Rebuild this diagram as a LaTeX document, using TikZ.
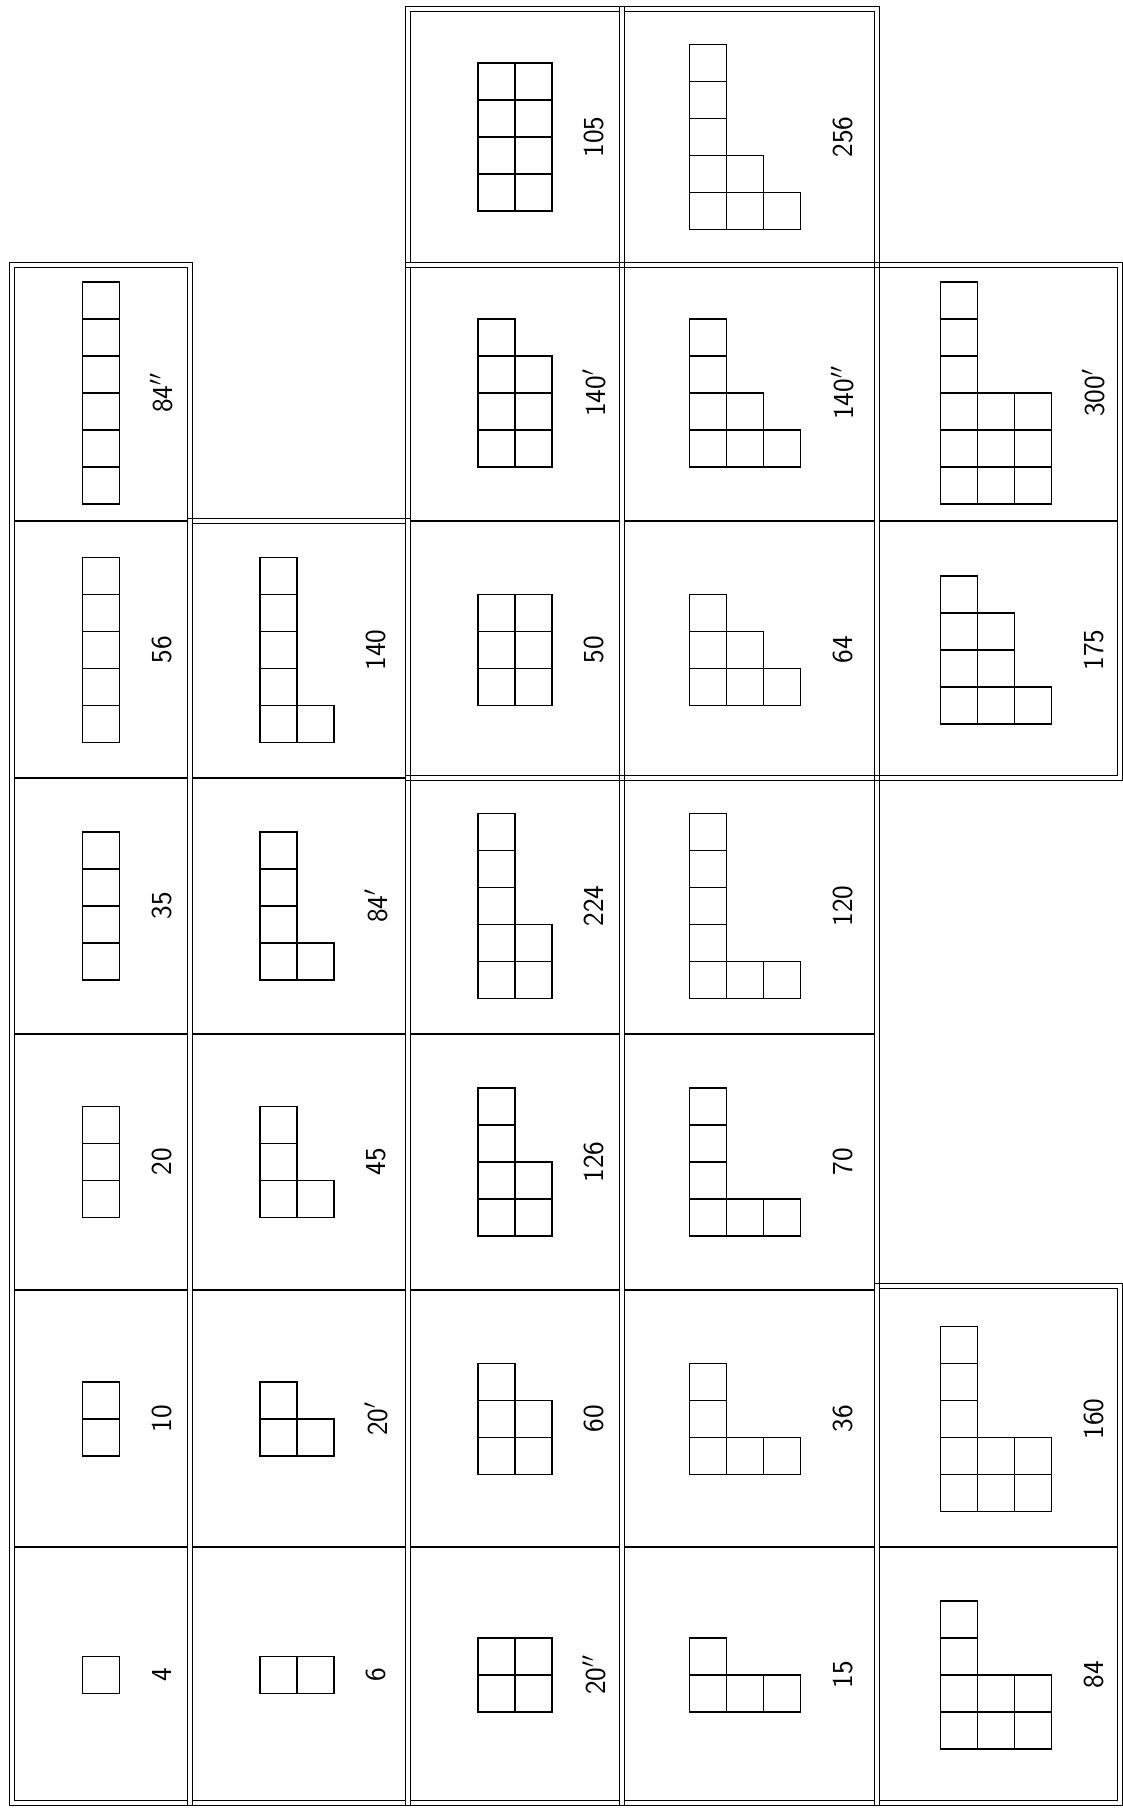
\documentclass[tikz,border=0pt]{standalone}
\usepackage{fontspec}
\usepackage{tikz}

\newcommand{\bsize}{37}
% one cell: rotated Young diagram (rows go upwards) + dimension
\newcommand{\youngcell}[3]{%
  \foreach \len [count=\i] in {#2} {\ifnum\i=1 \xdef\ydtop{\len}\fi \xdef\ydcols{\i}}%
  \begin{scope}[shift={(#1)}]
    \foreach \len [count=\i] in {#2} {
      \foreach \r in {1,...,\len} {
        \draw[ybox] ({(\i-1-\ydcols/2)*\bsize},{(\r-1-\ydtop/2)*\bsize}) rectangle ++(\bsize,\bsize);
      }
    }
    \node[dimlabel] (#1-lab) at ({\ydcols*\bsize/2+42},0) {#3};
  \end{scope}%
}

\begin{document}
\begin{tikzpicture}[
    x=0.02cm, y=0.02cm,
    frame/.style={line width=0.9pt},
    rowline/.style={line width=1pt},
    ybox/.style={line width=1.1pt},
    dimlabel/.style={rotate=90, inner sep=0pt, font=\sffamily\fontsize{16.5}{19}\selectfont}
]
    \useasboundingbox (0,0) rectangle (1123,1810);

    % Double frames of the blocks
    \foreach \xa/\ya/\xb/\yb in {12/7/190/1545, 190/7/408/1289,
        408/7/622/1032, 408/1032/622/1545, 408/1545/622/1801,
        622/7/877/1032, 622/1032/877/1545, 622/1545/877/1801,
        877/1032/1120/1545, 877/7/1120/524} {
        \draw[frame] (\xa-2.5,\ya-2.5) rectangle (\xb+2.5,\yb+2.5);
        \draw[frame] (\xa+2.5,\ya+2.5) rectangle (\xb-2.5,\yb-2.5);
    }

    % Single row lines
    \foreach \y in {263,520,776,1032,1289} \draw[rowline] (14.5,\y) -- (187.5,\y);
    \foreach \y in {263,520,776,1032} \draw[rowline] (192.5,\y) -- (405.5,\y);
    \foreach \y in {263,520,776,1289} {
        \draw[rowline] (410.5,\y) -- (619.5,\y);
        \draw[rowline] (624.5,\y) -- (874.5,\y);
    }
    \draw[rowline] (879.5,1289) -- (1117.5,1289);
    \draw[rowline] (879.5,263) -- (1117.5,263);

    % Cell centres
    \coordinate (c4) at (101,135);
    \coordinate (c10) at (101,391);
    \coordinate (c20) at (101,648);
    \coordinate (c35) at (101,904);
    \coordinate (c56) at (101,1160);
    \coordinate (c84b) at (101,1417);

    \coordinate (c6) at (297,135);
    \coordinate (c20a) at (297,391);
    \coordinate (c45) at (297,648);
    \coordinate (c84a) at (297,904);
    \coordinate (c140) at (297,1160);

    \coordinate (c20b) at (515,135);
    \coordinate (c60) at (515,391);
    \coordinate (c126) at (515,648);
    \coordinate (c224) at (515,904);
    \coordinate (c50) at (515,1160);
    \coordinate (c140a) at (515,1417);
    \coordinate (c105) at (515,1673);

    \coordinate (c15) at (745,135);
    \coordinate (c36) at (745,391);
    \coordinate (c70) at (745,648);
    \coordinate (c120) at (745,904);
    \coordinate (c64) at (745,1160);
    \coordinate (c140b) at (745,1417);
    \coordinate (c256) at (745,1673);

    \coordinate (c84) at (996,135);
    \coordinate (c160) at (996,391);
    \coordinate (c175) at (996,1160);
    \coordinate (c300a) at (996,1417);

    % Symmetric
    \youngcell{c4}{1}{4}
    \youngcell{c10}{2}{10}
    \youngcell{c20}{3}{20}
    \youngcell{c35}{4}{35}
    \youngcell{c56}{5}{56}
    \youngcell{c84b}{6}{84$''$}

    % Hooks
    \youngcell{c6}{1,1}{6}
    \youngcell{c20a}{2,1}{20$'$}
    \youngcell{c45}{3,1}{45}
    \youngcell{c84a}{4,1}{84$'$}
    \youngcell{c140}{5,1}{140}

    % Two rows
    \youngcell{c20b}{2,2}{20$''$}
    \youngcell{c60}{3,2}{60}
    \youngcell{c126}{4,2}{126}
    \youngcell{c224}{5,2}{224}
    \youngcell{c50}{3,3}{50}
    \youngcell{c140a}{4,3}{140$'$}
    \youngcell{c105}{4,4}{105}

    % Three rows
    \youngcell{c15}{2,1,1}{15}
    \youngcell{c36}{3,1,1}{36}
    \youngcell{c70}{4,1,1}{70}
    \youngcell{c120}{5,1,1}{120}
    \youngcell{c64}{3,2,1}{64}
    \youngcell{c140b}{4,2,1}{140$''$}
    \youngcell{c256}{5,2,1}{256}

    \youngcell{c84}{4,2,2}{84}
    \youngcell{c160}{5,2,2}{160}
    \youngcell{c175}{4,3,1}{175}
    \youngcell{c300a}{6,3,3}{300$'$}
\end{tikzpicture}
\end{document}
